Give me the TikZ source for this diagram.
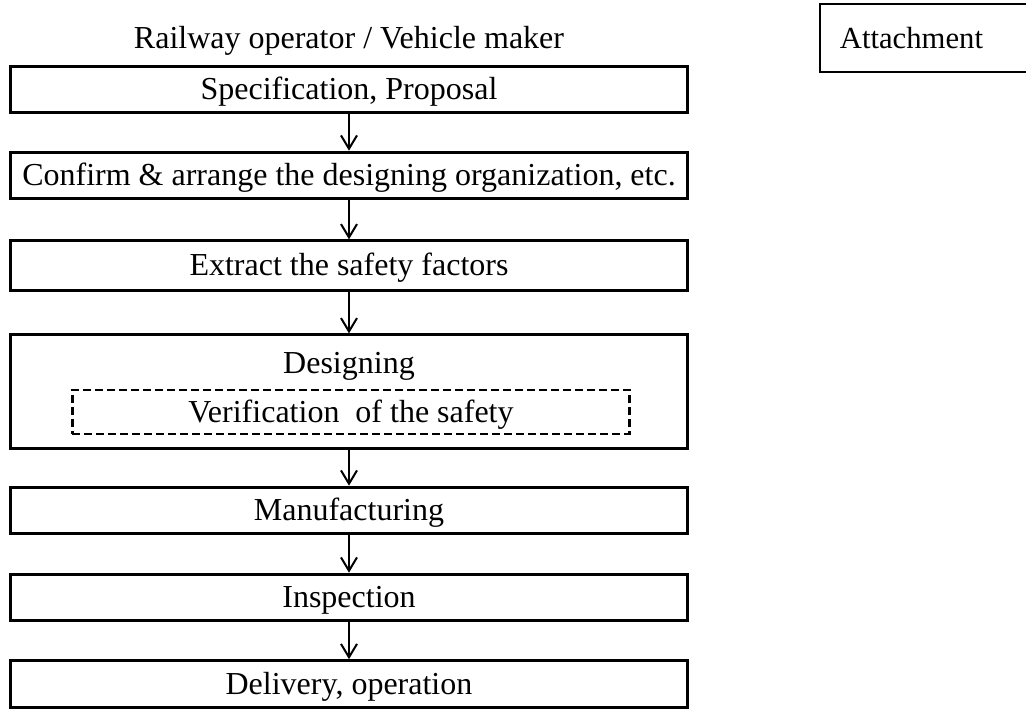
\documentclass[tikz,border=0pt]{standalone}
\usepackage{fontspec}
\setmainfont{Liberation Serif}
\usetikzlibrary{arrows.meta, positioning}
\definecolor{cink}{HTML}{000000}
\tikzset{
  every picture/.style={line width=1.2pt},
  stagebox/.style={draw=cink, line width=2.2pt, minimum width=508pt, minimum height=35pt, inner sep=0pt, text height=16.5pt, text depth=1pt, font=\fontsize{24}{28}\selectfont},
  arrow/.style={-{Straight Barb[length=10pt, width=12pt]}, draw=cink, line width=1.5pt},
  title/.style={font=\fontsize{24}{28}\selectfont},
  checkbox/.style={draw=cink, line width=2.2pt, dash pattern=on 6pt off 3pt, minimum width=418pt, minimum height=33pt, inner sep=0pt, text height=16.5pt, text depth=1pt, font=\fontsize{24}{28}\selectfont},
  attbox/.style={draw=cink, line width=1.4pt, anchor=west, align=left, text width=126.5pt, inner xsep=15pt, minimum height=51pt, font=\fontsize{23}{27}\selectfont},
}

\begin{document}
\begin{tikzpicture}[x=0.75pt, y=-0.75pt]
  \useasboundingbox (0,0) rectangle (1026,708);
  % ---- heading and side label ----
  \node[title, anchor=base] (hd) at (349,48) {Railway operator / Vehicle maker};
  \node[attbox] (att) at (819,38) {Attachment};
  % ---- stages, top to bottom ----
  \node[stagebox] (spec) at (349,89.5) {Specification, Proposal};
  \node[stagebox] (conf) at (349,175.5) {Confirm \& arrange the designing organization, etc.};
  \node[stagebox, minimum height=37pt] (extr) at (349,265.5) {Extract the safety factors};
  \node[stagebox, minimum height=85pt] (des) at (349,391.5) {};
  \node[title] (desl) at (349,366) {Designing};
  \node[checkbox] (ver) at (351,412) {Verification\ \ of the safety};
  \node[stagebox] (manu) at (349,510.5) {Manufacturing};
  \node[stagebox] (insp) at (349,597.5) {Inspection};
  \node[stagebox] (deli) at (349,684) {Delivery,\ operation};
  % ---- flow ----
  \foreach \a/\b in {spec/conf, conf/extr, extr/des, des/manu, manu/insp, insp/deli}
    \draw[arrow] (\a) -- (\b);
\end{tikzpicture}
\end{document}
